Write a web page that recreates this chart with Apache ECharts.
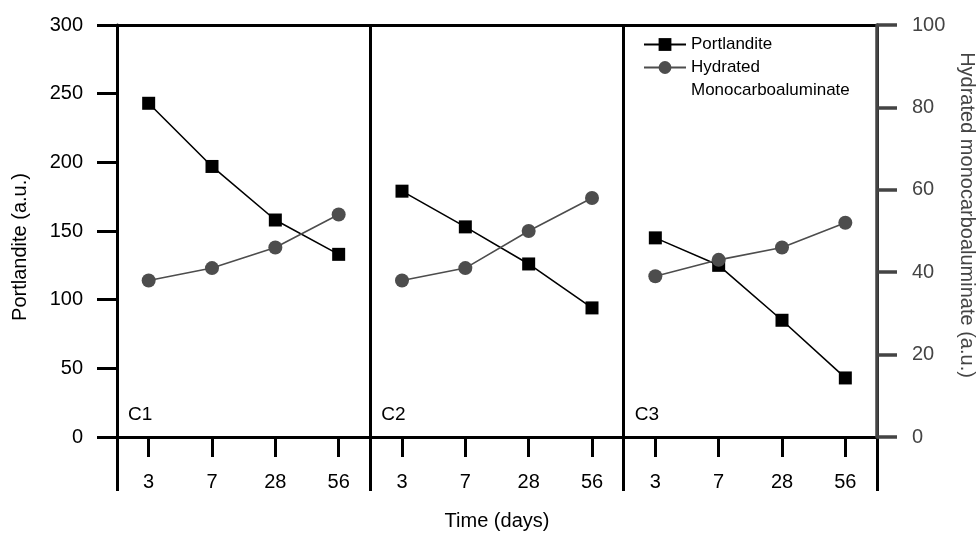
<!DOCTYPE html>
<html>
<head>
<meta charset="utf-8">
<script src="https://cdn.jsdelivr.net/npm/echarts@6/dist/echarts.min.js"></script>
<style>
  html, body { margin: 0; padding: 0; background: #ffffff; }
  #chart { width: 979px; height: 536px; }
</style>
</head>
<body>
<div id="chart"></div>
<script>
// Curing ages (x categories, shared by each panel)
const days = ['3', '7', '28', '56'];
// Mixes shown side by side
const panelNames = ['C1', 'C2', 'C3'];

// Portlandite content (left axis, a.u.)
const portlanditeC1 = [243, 197, 158, 133];
const portlanditeC2 = [179, 153, 126, 94];
const portlanditeC3 = [145, 125, 85, 43];

// Hydrated monocarboaluminate content (right axis, a.u.)
const monocarboC1 = [38, 41, 46, 54];
const monocarboC2 = [38, 41, 50, 58];
const monocarboC3 = [39, 43, 46, 52];

const portlanditeTicks = { min: 0, max: 300, interval: 50 };
const monocarboTicks = { min: 0, max: 100, interval: 20 };

const portlanditeByPanel = [portlanditeC1, portlanditeC2, portlanditeC3];
const monocarboByPanel = [monocarboC1, monocarboC2, monocarboC3];

const PORT_NAME = 'Portlandite';
const MONO_NAME = 'Hydrated\nMonocarboaluminate';

const FONT = '"Liberation Sans", Arial, sans-serif';
const INK = '#000000';
const GREY = '#4d4d4d';
const AXIS_GREY = '#444444';

const plotLeft = 117;
const plotRight = 102;
const plotTop = 25;
const plotHeight = 412;
const panelWidth = (979 - plotLeft - plotRight) / panelNames.length;

const grids = [];
const xAxes = [];
const yAxes = [];
const series = [];
const titles = [];

panelNames.forEach((name, i) => {
  grids.push({
    left: plotLeft + i * panelWidth,
    top: plotTop,
    width: panelWidth,
    height: plotHeight,
    containLabel: false
  });

  xAxes.push({
    type: 'category',
    gridIndex: i,
    data: days,
    boundaryGap: true,
    axisLine: { show: true, lineStyle: { color: INK, width: 3 } },
    axisTick: { show: true, alignWithLabel: true, length: 20, lineStyle: { color: INK, width: 3 } },
    axisLabel: { show: true, interval: 0, margin: 35, color: INK, fontSize: 20, fontFamily: FONT },
    splitLine: { show: false }
  });

  const isFirst = i === 0;
  const isLast = i === panelNames.length - 1;

  // Portlandite scale
  yAxes.push({
    type: 'value',
    gridIndex: i,
    position: 'left',
    min: portlanditeTicks.min,
    max: portlanditeTicks.max,
    interval: portlanditeTicks.interval,
    show: isFirst,
    name: isFirst ? 'Portlandite (a.u.)' : '',
    nameLocation: 'middle',
    nameGap: 87,
    nameRotate: 90,
    nameTextStyle: { color: INK, fontSize: 20, fontFamily: FONT, padding: [0, 32, 0, 0] },
    axisLine: { show: true, lineStyle: { color: INK, width: 3 } },
    axisTick: { show: true, length: 20, lineStyle: { color: INK, width: 3 } },
    axisLabel: { show: true, margin: 34, color: INK, fontSize: 20, fontFamily: FONT },
    splitLine: { show: false }
  });

  // Monocarboaluminate scale
  yAxes.push({
    type: 'value',
    gridIndex: i,
    position: 'right',
    min: monocarboTicks.min,
    max: monocarboTicks.max,
    interval: monocarboTicks.interval,
    show: isLast,
    z: 3,
    name: isLast ? 'Hydrated monocarboaluminate (a.u.)' : '',
    nameLocation: 'middle',
    nameGap: 80,
    nameRotate: -90,
    nameTextStyle: { color: AXIS_GREY, fontSize: 20, fontFamily: FONT, padding: [0, 32, 0, 0] },
    axisLine: { show: true, lineStyle: { color: AXIS_GREY, width: 3.5 } },
    axisTick: { show: true, length: 20, lineStyle: { color: AXIS_GREY, width: 3.5 } },
    axisLabel: { show: true, margin: 35, color: AXIS_GREY, fontSize: 20, fontFamily: FONT },
    splitLine: { show: false }
  });

  series.push({
    name: PORT_NAME,
    type: 'line',
    xAxisIndex: i,
    yAxisIndex: i * 2,
    data: portlanditeByPanel[i],
    symbol: 'rect',
    symbolSize: 13,
    itemStyle: { color: INK },
    lineStyle: { color: INK, width: 1.6 },
    emphasis: { disabled: true },
    z: 3
  });

  series.push({
    name: MONO_NAME,
    type: 'line',
    xAxisIndex: i,
    yAxisIndex: i * 2 + 1,
    data: monocarboByPanel[i],
    symbol: 'circle',
    symbolSize: 14,
    itemStyle: { color: GREY },
    lineStyle: { color: GREY, width: 1.6 },
    emphasis: { disabled: true },
    z: 4
  });

  titles.push({
    text: name,
    left: plotLeft + i * panelWidth + 11,
    top: 405,
    padding: 0,
    textStyle: { color: INK, fontSize: 19, fontWeight: 'normal', fontFamily: FONT }
  });
});

// Frame grid spanning all panels: panel dividers, top border and shared axis title
const frameGrid = grids.length;
grids.push({ left: plotLeft, right: plotRight, top: plotTop, height: plotHeight, containLabel: false });

xAxes.push({
  type: 'category',
  gridIndex: frameGrid,
  position: 'bottom',
  data: panelNames,
  boundaryGap: true,
  z: 1,
  name: 'Time (days)',
  nameLocation: 'middle',
  nameGap: 80,
  nameTextStyle: { color: INK, fontSize: 20, fontFamily: FONT },
  axisLine: { show: false },
  axisTick: { show: true, interval: 0, length: 60, lineStyle: { color: INK, width: 3 } },
  axisLabel: { show: false },
  splitLine: { show: true, interval: 0, lineStyle: { color: INK, width: 3 } }
});

xAxes.push({
  type: 'category',
  gridIndex: frameGrid,
  position: 'top',
  data: panelNames,
  axisLine: { show: true, lineStyle: { color: INK, width: 3 } },
  axisTick: { show: false },
  axisLabel: { show: false },
  splitLine: { show: false }
});

yAxes.push({ type: 'value', gridIndex: frameGrid, show: false, min: 0, max: 1 });

const option = {
  animation: false,
  backgroundColor: '#ffffff',
  title: titles,
  legend: {
    orient: 'vertical',
    left: 643,
    top: 33,
    padding: 0,
    itemWidth: 42,
    itemHeight: 16,
    itemGap: -23,
    selectedMode: false,
    data: [PORT_NAME, MONO_NAME],
    // a blank leading line keeps the icon level with the first line of a wrapped name
    formatter: (name) => (name.indexOf('\n') >= 0 ? '\n' + name : name),
    textStyle: { color: INK, fontSize: 17, fontFamily: FONT, lineHeight: 23 }
  },
  grid: grids,
  xAxis: xAxes,
  yAxis: yAxes,
  series: series
};

const chart = echarts.init(document.getElementById('chart'), null, { renderer: 'canvas' });
chart.setOption(option);
</script>
</body>
</html>
